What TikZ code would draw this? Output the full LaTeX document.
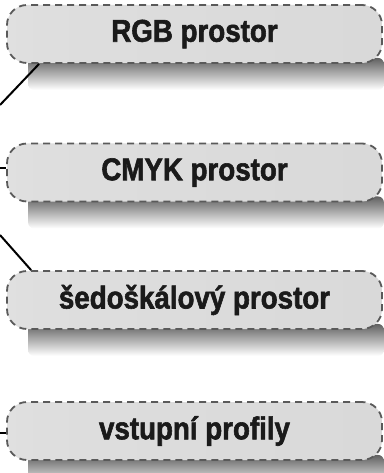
\documentclass[tikz,border=0pt]{standalone}
\usepackage{fontspec}
\setmainfont{Liberation Sans}[FakeStretch=0.88, BoldFeatures={FakeBold=1.8}]
\usetikzlibrary{calc,backgrounds}
\definecolor{edgegray}{HTML}{5A5A5A}
\definecolor{inkdark}{HTML}{1A1A1A}
\pgfdeclarehorizontalshading{boxfill}{100bp}{color(0bp)=(white); color(12bp)=(white!90!black); color(30bp)=(white!87!black); color(100bp)=(white!84!black)}
\tikzset{
  label box/.style={draw=edgegray, line width=1.8pt, dash pattern=on 7pt off 5pt,
    rounded corners=20pt, shading=boxfill, minimum width=375pt, minimum height=58pt,
    inner sep=0pt, text=inkdark, font=\fontsize{31.5}{32}\selectfont\bfseries},
  link/.style={line width=2pt, black},
  shadowband/.style={top color=white!38!black, bottom color=white}
}
\newcommand{\boxshadow}[1]{%
  \begin{scope}[on background layer]
    \shade[shadowband, rounded corners=6pt] ($(#1.south west)+(22,-6)$) rectangle ($(#1.south east)+(1,26)$);
  \end{scope}}
\begin{document}
\begin{tikzpicture}[x=1pt,y=-1pt]
  \useasboundingbox (0,0) rectangle (383,473);
  \begin{scope}[on background layer]
    \fill[white] (0,0) rectangle (383,473);
  \end{scope}

  \node[label box] (rgb)  at (194.5,34)  {RGB prostor};
  \node[label box] (cmyk) at (194.5,172.5) {CMYK prostor};
  \node[label box] (gray) at (194.5,300) {šedoškálový prostor};
  \node[label box] (inp)  at (194.5,431) {vstupní profily};

  \boxshadow{rgb}
  \boxshadow{cmyk}
  \boxshadow{gray}
  \boxshadow{inp}

  % connectors coming in from the left margin
  \coordinate (a1) at (0,105);
  \coordinate (a2) at (0,168);
  \coordinate (a3) at (0,235);
  \coordinate (a4) at (0,433);
  \draw[link] (a1) -- ($(rgb.south west)+(33,0)$);
  \draw[link] (a2) -- (a2 -| cmyk.west);
  \draw[link] (a3) -- ($(gray.north west)+(25,0)$);
  \draw[link] (a4) -- (a4 -| inp.west);
\end{tikzpicture}
\end{document}
